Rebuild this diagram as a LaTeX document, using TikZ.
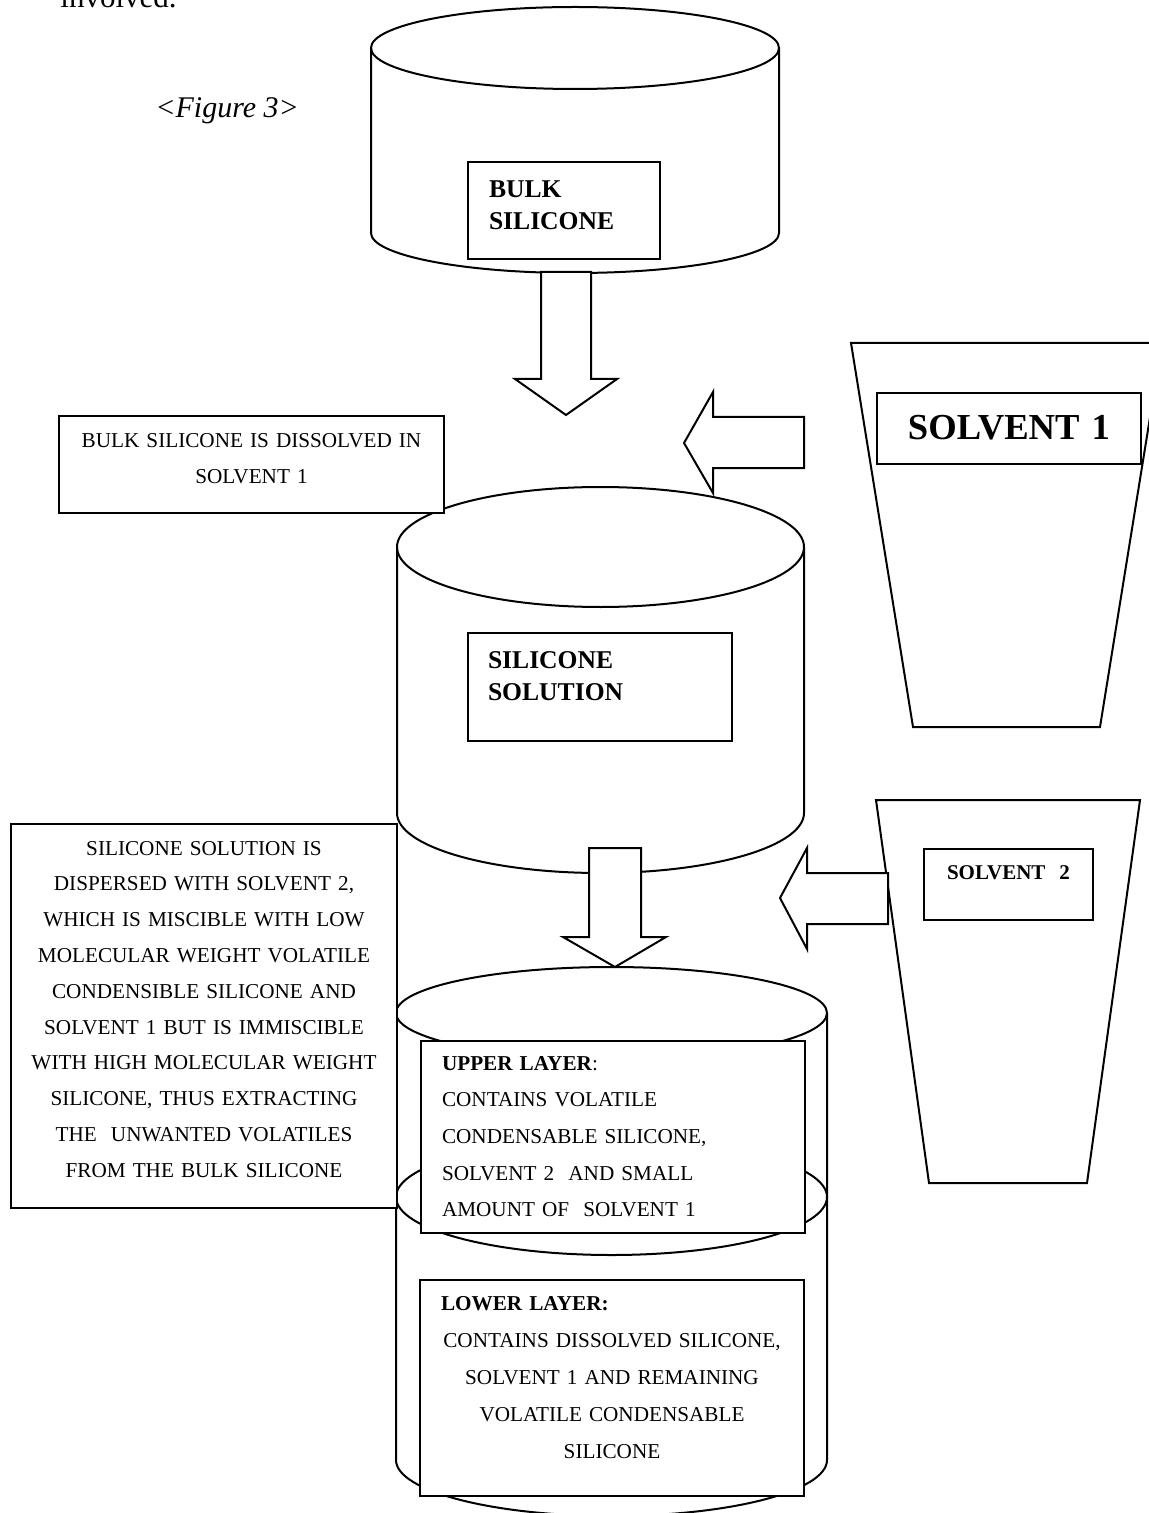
\documentclass[tikz,border=0pt]{standalone}
\usepackage{fontspec}
\setmainfont{Liberation Serif}

\begin{document}
\begin{tikzpicture}[x=0.5pt, y=-0.5pt]
  \tikzstyle{vessel}=[draw, line width=1pt]
  \tikzstyle{fatarrow}=[draw, line width=1pt, fill=white, line join=miter]
  \tikzstyle{tag}=[rectangle, draw, line width=1pt, fill=white, inner ysep=0pt, anchor=north west]
  \tikzstyle{heading}=[font=\bfseries\fontsize{12.8}{16}\selectfont]

  \useasboundingbox (0,0) rectangle (1149,1513);
  \clip (0,0) rectangle (1149,1513);

  % page text
  \node[anchor=base west, inner sep=0pt, font=\fontsize{15.5}{18}\selectfont] (involved) at (60,8) {involved.};
  \node[anchor=base west, inner sep=0pt, font=\itshape\fontsize{15}{18}\selectfont] (figno) at (155,118) {\textless Figure 3\textgreater};

  % vessels
  \draw[vessel] (371,48) -- (371,233) arc (180:0:204 and 40) -- (779,48);
  \draw[vessel] (575,48) ellipse (204 and 41);

  \draw[vessel] (397,547) -- (397,813) arc (180:0:203.5 and 60) -- (804,547);
  \draw[vessel] (600.5,547) ellipse (203.5 and 60);

  \draw[vessel] (396,1013) -- (396,1460) arc (180:0:215.5 and 56) -- (827,1013);
  \draw[vessel] (611.5,1013) ellipse (215.5 and 46);
  \draw[vessel] (611.5,1197) ellipse (215.5 and 58);

  \draw[vessel] (851,343) -- (913,727) -- (1100,727) -- (1162,343) -- cycle;
  \draw[vessel] (876,800) -- (929,1183) -- (1087,1183) -- (1140,800) -- cycle;

  % block arrows
  \draw[fatarrow] (541,272) -- (541,379) -- (515,379) -- (566,415) -- (617,379) -- (591,379) -- (591,272) -- cycle;
  \draw[fatarrow] (804,417) -- (713,417) -- (713,392) -- (684,443) -- (713,493) -- (713,468) -- (804,468) -- cycle;
  \draw[fatarrow] (589,848) -- (589,937) -- (563,937) -- (615,967) -- (666,937) -- (641,937) -- (641,848) -- cycle;
  \draw[fatarrow] (888,873) -- (807,873) -- (807,848) -- (780,898) -- (807,949) -- (807,924) -- (888,924) -- cycle;

  % boxes
  \node[tag, heading, inner xsep=10.5pt, text width=75pt, align=left, text height=18pt, text depth=30.5pt] (bulk) at (467,161) {BULK\\SILICONE};
  \node[tag, heading, inner xsep=10pt, text width=112pt, align=left, text height=17.5pt, text depth=36.5pt] (solution) at (467,632) {SILICONE\\SOLUTION};
  \node[tag, font=\bfseries\fontsize{18.3}{22}\selectfont, inner xsep=4pt, text width=124pt, align=center, text height=23pt, text depth=12.5pt] (solvone) at (876,392) {SOLVENT 1};
  \node[tag, font=\bfseries\fontsize{10.5}{13}\selectfont, inner xsep=4pt, text width=76.5pt, align=center, text height=15pt, text depth=20.5pt] (solvtwo) at (923,848) {SOLVENT\ \ 2};

  \node[tag, font=\fontsize{10.6}{17.5}\selectfont, inner xsep=2pt, text width=188.5pt, align=center, text height=16pt, text depth=32.5pt] (dissolve) at (58,415) {BULK SILICONE IS DISSOLVED IN\\SOLVENT 1};
  \node[tag, font=\fontsize{10.6}{17.9}\selectfont, inner xsep=4pt, text width=185pt, align=center, text height=15.5pt, text depth=176.5pt] (disperse) at (10,823)
    {SILICONE SOLUTION IS\\DISPERSED WITH SOLVENT 2,\\WHICH IS MISCIBLE WITH LOW\\MOLECULAR WEIGHT VOLATILE\\CONDENSIBLE SILICONE AND\\SOLVENT 1 BUT IS IMMISCIBLE\\WITH HIGH MOLECULAR WEIGHT\\SILICONE, THUS EXTRACTING\\THE\ \ UNWANTED VOLATILES\\FROM THE BULK SILICONE};

  \node[tag, font=\fontsize{10.6}{18.35}\selectfont, inner xsep=10.5pt, text width=171pt, align=left, text height=14.5pt, text depth=81.5pt] (upper) at (420,1040)
    {\textbf{UPPER LAYER}:\\CONTAINS VOLATILE\\CONDENSABLE SILICONE,\\SOLVENT 2\ \ AND SMALL\\AMOUNT OF\ \ SOLVENT 1};
  \node[tag, font=\fontsize{10.6}{18.5}\selectfont, inner xsep=1pt, text width=190pt, align=center, text height=15pt, text depth=93pt] (lower) at (419,1279)
    {\makebox[190pt][l]{\hspace{9.5pt}\textbf{LOWER LAYER:}}\\CONTAINS DISSOLVED SILICONE,\\SOLVENT 1 AND REMAINING\\VOLATILE CONDENSABLE\\SILICONE};
\end{tikzpicture}
\end{document}
